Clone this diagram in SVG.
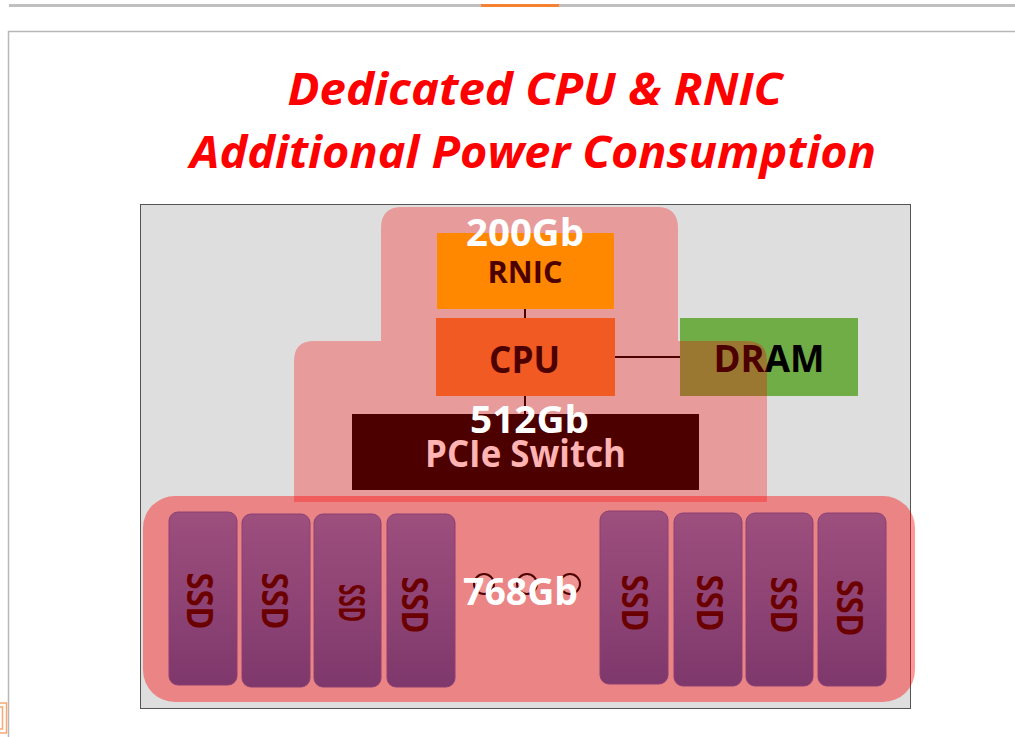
<svg xmlns="http://www.w3.org/2000/svg" width="1015" height="737" viewBox="0 0 1015 737">
<defs>
<style>
.title{font-family:"Open Sans","Liberation Sans",sans-serif;font-weight:700;font-style:italic;font-size:45px;fill:#ff0000;text-anchor:middle}
.lbl{font-family:"Open Sans","Liberation Sans",sans-serif;font-weight:700;text-anchor:middle}
.gb{font-family:"Open Sans","Liberation Sans",sans-serif;font-weight:700;font-size:37px;fill:#ffffff;text-anchor:middle}
.ssd{fill:url(#ssdg);stroke:#8c3f72;stroke-width:1}
.ssdt{font-family:"Open Sans","Liberation Sans",sans-serif;font-weight:700;font-size:35px;fill:#6b0000;text-anchor:middle}
.conn{stroke:#4d0000;stroke-width:2;fill:none}
</style>
<linearGradient id="ssdg" x1="0" y1="0" x2="0" y2="1">
<stop offset="0" stop-color="#9d4f7d"/>
<stop offset="1" stop-color="#7f386c"/>
</linearGradient>
</defs>
<rect x="0" y="0" width="1015" height="737" fill="#ffffff"/>
<rect x="9" y="4" width="1006" height="3" fill="#c0c0c0"/>
<rect x="481" y="4" width="78" height="3" fill="#f58233"/>
<path d="M8.5,737 V31.5 H1015" fill="none" stroke="#b8b8b8" stroke-width="1.5"/>
<rect x="-10" y="703" width="16.5" height="30" fill="none" stroke="#f8a872" stroke-width="1.5"/>
<rect x="-10" y="707" width="12.5" height="22" fill="none" stroke="#f8a872" stroke-width="1.5"/>

<g id="title">
<text class="title" x="535" y="105" textLength="495" lengthAdjust="spacingAndGlyphs">Dedicated CPU &amp; RNIC</text>
<text class="title" x="533" y="168" textLength="686" lengthAdjust="spacingAndGlyphs">Additional Power Consumption</text>
</g>

<rect x="140.5" y="204.5" width="770" height="504" fill="#dedede" stroke="#555555" stroke-width="1"/>

<g id="dram">
<rect x="680" y="318" width="178" height="78" fill="#70ad47"/>
<text class="lbl" x="769" y="372" font-size="37" fill="#000000" textLength="111" lengthAdjust="spacingAndGlyphs">DRAM</text>
</g>

<g id="regions">
<path id="region-upper" d="M294,502 V361 Q294,341 314,341 H381 V228 Q381,207 402,207 H657 Q678,207 678,228 V341 H747 Q767,341 767,361 V502 Z" fill="#ff0000" fill-opacity="0.3"/>
<rect id="region-lower" x="143" y="496" width="772" height="206" rx="32" ry="32" fill="#ff0000" fill-opacity="0.4"/>
</g>

<g id="connectors">
<line class="conn" x1="525" y1="309" x2="525" y2="318"/>
<line class="conn" x1="615" y1="357" x2="680" y2="357"/>
<line class="conn" x1="525" y1="396" x2="525" y2="414"/>
</g>

<g id="rnic">
<rect x="437" y="233" width="177" height="76" fill="#ff8800"/>
<text class="lbl" x="525" y="283" font-size="30" fill="#4d0000" textLength="75" lengthAdjust="spacingAndGlyphs">RNIC</text>
</g>

<g id="cpu">
<rect x="436" y="318" width="179" height="78" fill="#f15a22"/>
<text class="lbl" x="524.5" y="373" font-size="37" fill="#4d0000" textLength="71" lengthAdjust="spacingAndGlyphs">CPU</text>
</g>

<g id="pcie">
<rect x="352" y="414" width="347" height="76" fill="#4d0000"/>
<text class="lbl" x="525.5" y="467" font-size="37" font-weight="600" fill="#ffb3b3" textLength="201" lengthAdjust="spacingAndGlyphs">PCIe Switch</text>
</g>

<g id="ssd1"><rect class="ssd" x="169" y="512" width="68" height="173" rx="9"/><text class="ssdt" transform="translate(199.5,601) rotate(90)" y="12.5" textLength="57" lengthAdjust="spacingAndGlyphs">SSD</text></g>
<g id="ssd2"><rect class="ssd" x="242" y="514" width="68" height="173" rx="9"/><text class="ssdt" transform="translate(274.5,601) rotate(90)" y="12.5" textLength="57" lengthAdjust="spacingAndGlyphs">SSD</text></g>
<g id="ssd3"><rect class="ssd" x="314" y="514" width="67" height="173" rx="9"/><text class="ssdt" transform="translate(348,603) rotate(90)" y="9" font-size="25" font-weight="400" textLength="38" lengthAdjust="spacingAndGlyphs">SSD</text></g>
<g id="ssd4"><rect class="ssd" x="387" y="514" width="68" height="173" rx="9"/><text class="ssdt" transform="translate(414.5,605) rotate(90)" y="12.5" textLength="57" lengthAdjust="spacingAndGlyphs">SSD</text></g>
<g id="ssd5"><rect class="ssd" x="600" y="511" width="68" height="173" rx="9"/><text class="ssdt" transform="translate(634.5,603) rotate(90)" y="12.5" textLength="57" lengthAdjust="spacingAndGlyphs">SSD</text></g>
<g id="ssd6"><rect class="ssd" x="674" y="513" width="68" height="173" rx="9"/><text class="ssdt" transform="translate(709.5,603) rotate(90)" y="12.5" textLength="57" lengthAdjust="spacingAndGlyphs">SSD</text></g>
<g id="ssd7"><rect class="ssd" x="746" y="513" width="67" height="173" rx="9"/><text class="ssdt" transform="translate(783.5,605) rotate(90)" y="12.5" textLength="57" lengthAdjust="spacingAndGlyphs">SSD</text></g>
<g id="ssd8"><rect class="ssd" x="818" y="513" width="68" height="173" rx="9"/><text class="ssdt" transform="translate(849.5,608) rotate(90)" y="12.5" textLength="57" lengthAdjust="spacingAndGlyphs">SSD</text></g>

<g id="ellipsis" fill="#f4a0a0" fill-opacity="0.6" stroke="#4d0000" stroke-width="2">
<circle cx="484" cy="584" r="10"/>
<circle cx="527" cy="584" r="10"/>
<circle cx="570" cy="584" r="10"/>
</g>

<g id="bandwidth">
<text class="gb" x="525" y="246" textLength="118" lengthAdjust="spacingAndGlyphs">200Gb</text>
<text class="gb" x="529.5" y="433" textLength="119" lengthAdjust="spacingAndGlyphs">512Gb</text>
<text class="gb" x="520.5" y="605" textLength="115" lengthAdjust="spacingAndGlyphs">768Gb</text>
</g>
</svg>
